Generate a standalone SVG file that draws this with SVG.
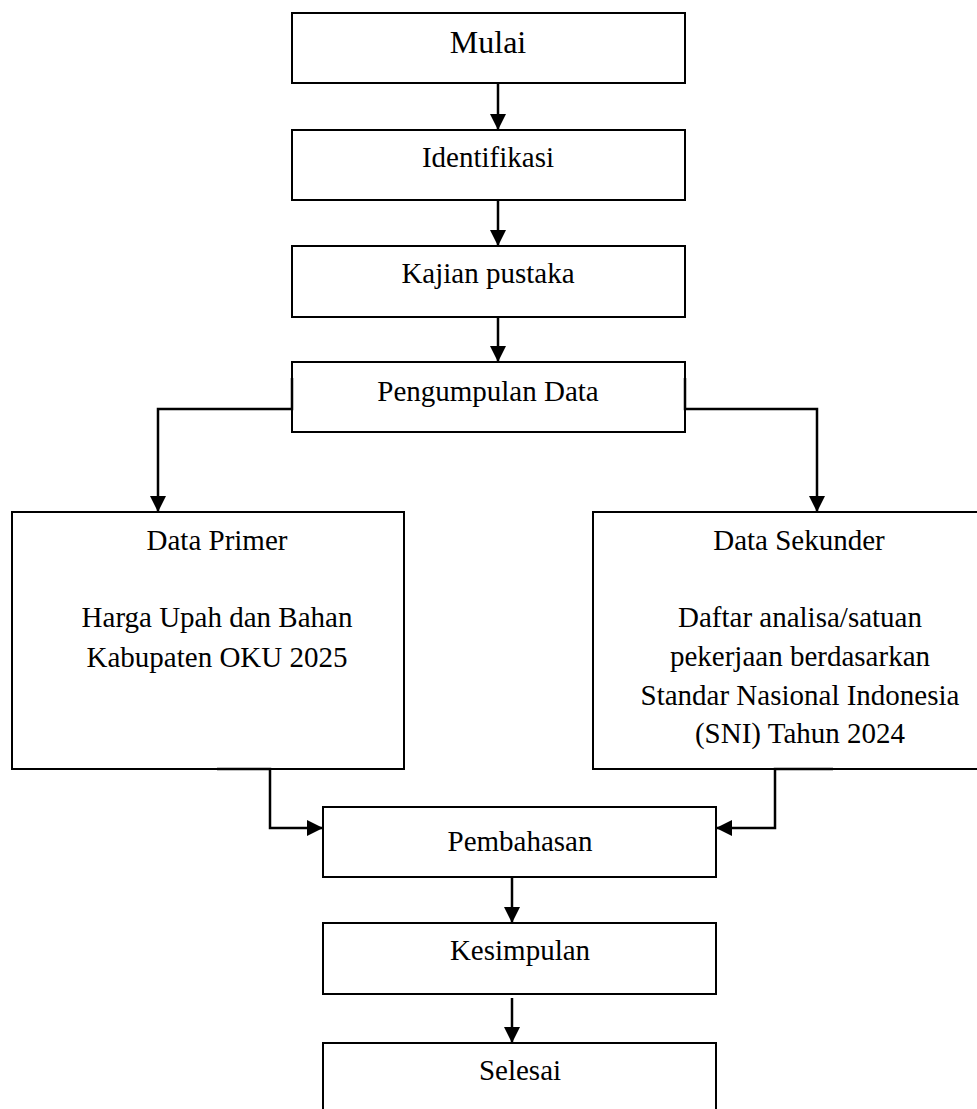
<svg xmlns="http://www.w3.org/2000/svg" width="977" height="1109" viewBox="0 0 977 1109">
<style>
.box{fill:#fff;stroke:#000;stroke-width:2}
.t{font-size:29px;fill:#000;text-anchor:middle}
.big{font-size:32px}
.c{fill:none;stroke:#000;stroke-width:2.5}
</style>
<defs>
<marker id="ah" markerWidth="16" markerHeight="16" refX="16" refY="8" orient="auto" markerUnits="userSpaceOnUse">
<path d="M0,0 L16,8 L0,16 z" fill="#000"/>
</marker>
</defs>
<rect width="977" height="1109" fill="#fff"/>
<g font-family="Liberation Serif, Tinos, DejaVu Serif, serif">
<g id="mulai"><rect class="box" x="292" y="13" width="393" height="70"/><text class="t big" x="488" y="53">Mulai</text></g>
<g id="identifikasi"><rect class="box" x="292" y="130" width="393" height="70"/><text class="t" x="488" y="167">Identifikasi</text></g>
<g id="kajian"><rect class="box" x="292" y="246" width="393" height="71"/><text class="t" x="488" y="283">Kajian pustaka</text></g>
<g id="pengumpulan"><rect class="box" x="292" y="362" width="393" height="70"/><text class="t" x="488" y="401">Pengumpulan Data</text></g>
<g id="primer"><rect class="box" x="12" y="512" width="392" height="257"/>
<text class="t" x="217" y="550">Data Primer</text>
<text class="t" x="217" y="627">Harga Upah dan Bahan</text>
<text class="t" x="217" y="667">Kabupaten OKU 2025</text></g>
<g id="sekunder"><rect class="box" x="593" y="512" width="400" height="257"/>
<text class="t" x="799" y="550">Data Sekunder</text>
<text class="t" x="800" y="627">Daftar analisa/satuan</text>
<text class="t" x="800" y="666">pekerjaan berdasarkan</text>
<text class="t" x="800" y="705">Standar Nasional Indonesia</text>
<text class="t" x="800" y="743">(SNI) Tahun 2024</text></g>
<g id="pembahasan"><rect class="box" x="323" y="807" width="393" height="70"/><text class="t" x="520" y="851">Pembahasan</text></g>
<g id="kesimpulan"><rect class="box" x="323" y="923" width="393" height="71"/><text class="t" x="520" y="960">Kesimpulan</text></g>
<g id="selesai"><rect class="box" x="323" y="1043" width="393" height="80"/><text class="t" x="520" y="1080">Selesai</text></g>
</g>
<g id="connectors">
<path class="c" d="M498,83 V130" marker-end="url(#ah)"/>
<path class="c" d="M498,200 V246" marker-end="url(#ah)"/>
<path class="c" d="M498,317 V362" marker-end="url(#ah)"/>
<path class="c" d="M292,378 V409 H158 V512" marker-end="url(#ah)"/>
<path class="c" d="M685,378 V409 H817 V512" marker-end="url(#ah)"/>
<path class="c" d="M217,769 H270 V828 H323" marker-end="url(#ah)"/>
<path class="c" d="M833,769 H775 V828 H716" marker-end="url(#ah)"/>
<path class="c" d="M512,877 V923" marker-end="url(#ah)"/>
<path class="c" d="M512,998 V1043" marker-end="url(#ah)"/>
</g>
</svg>
